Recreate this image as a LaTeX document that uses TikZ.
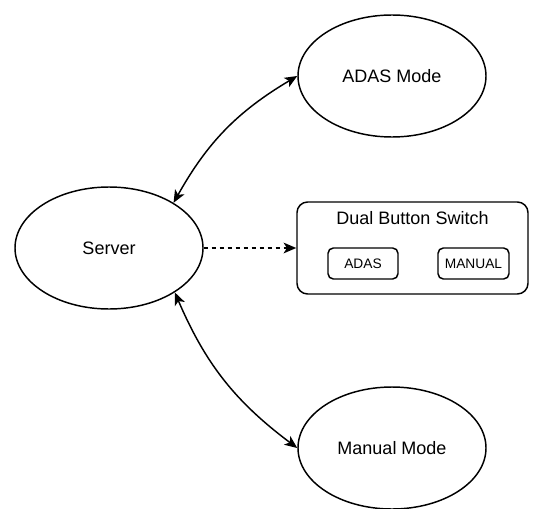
\documentclass[tikz,border=0pt]{standalone}
\usepackage{fontspec}
\setmainfont{Liberation Sans}
\usetikzlibrary{shapes.geometric,arrows.meta}
\begin{document}
\begin{tikzpicture}[x=0.75pt,y=0.75pt,
  line width=1.1pt,
  >={Stealth[length=9.5pt,width=8pt,inset=2.5pt]},
  modeoval/.style={ellipse,draw,minimum width=141pt,minimum height=91.5pt,inner sep=0pt,font=\fontsize{13.5}{16}\selectfont},
  panel/.style={draw,rounded corners=8pt,minimum width=173.25pt,minimum height=69pt,inner sep=0pt},
  keybox/.style={draw,rounded corners=4pt,minimum height=23.25pt,inner sep=0pt,font=\fontsize{10.3}{12}\selectfont},
  label/.style={font=\fontsize{13.5}{16}\selectfont,inner sep=0pt}]
\useasboundingbox (0,0) rectangle (538,508);

% oval nodes
\node[modeoval] (server) at (109,260) {Server};
\node[modeoval] (adas) at (392,432) {ADAS Mode};
\node[modeoval] (manual) at (392,60) {Manual Mode};

% switch panel with its two buttons
\node[panel] (switch) at (412.5,260) {};
\node[label] (title) at (412.5,290) {Dual Button Switch};
\node[keybox,minimum width=52.5pt] (bAdas) at (363,244.5) {ADAS};
\node[keybox,minimum width=53.25pt] (bManual) at (473.5,244.5) {MANUAL};

% connectors
\draw[<->] (server.35) to[bend left=15] (adas.180);
\draw[<->] (server.-34) to[bend right=15] (manual.180);
\draw[->,dash pattern=on 3.4pt off 2.6pt] (server.east) -- (switch.west);
\end{tikzpicture}
\end{document}
